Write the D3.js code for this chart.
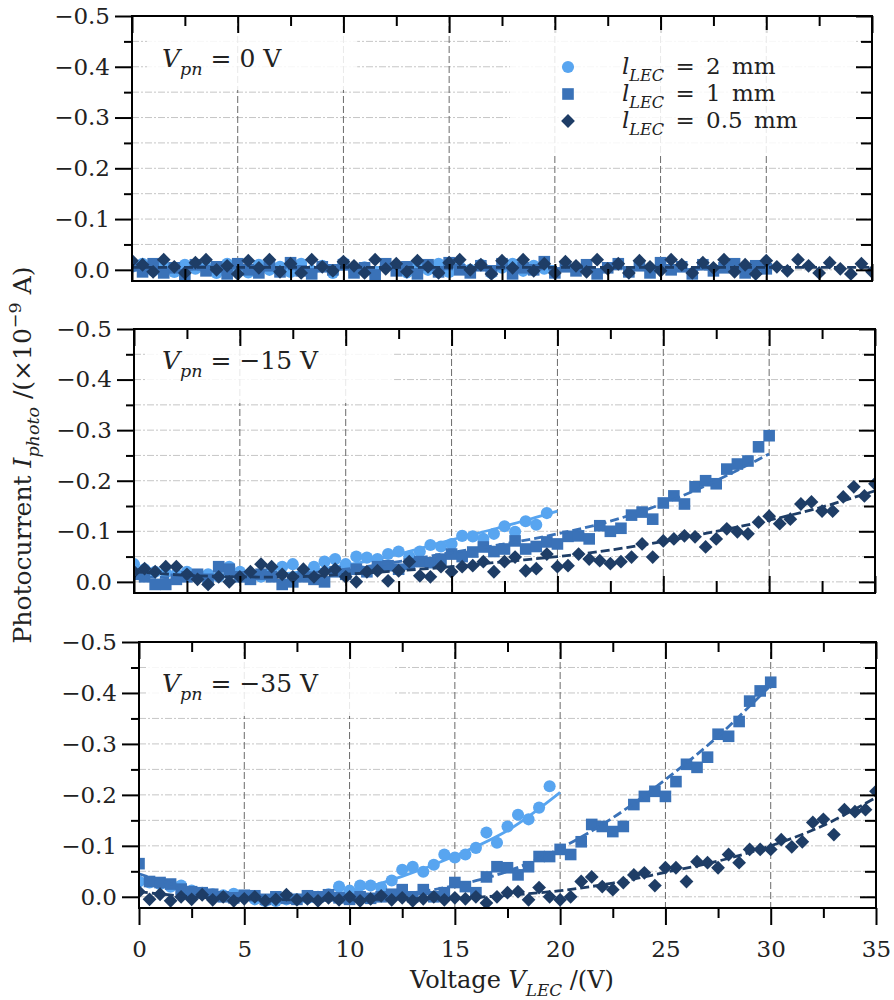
<!DOCTYPE html>
<html>
<head>
<meta charset="utf-8">
<script src="https://d3js.org/d3.v7.min.js"></script>
<style>
body { margin: 0; background: #fff; }
svg { display: block; font-family: "DejaVu Serif", serif; }
.frame { fill: none; stroke: #000; stroke-width: 2; }
.tick text { fill: #222; }
</style>
</head>
<body>
<svg width="894" height="1000"></svg>
<script>
// LEC voltage steps (V) shared by all series
const voltages = [0,0.5,1,1.5,2,2.5,3,3.5,4,4.5,5,5.5,6,6.5,7,7.5,8,8.5,9,9.5,
  10,10.5,11,11.5,12,12.5,13,13.5,14,14.5,15,15.5,16,16.5,17,17.5,18,18.5,19,19.5,
  20,20.5,21,21.5,22,22.5,23,23.5,24,24.5,25,25.5,26,26.5,27,27.5,28,28.5,29,29.5,
  30,30.5,31,31.5,32,32.5,33,33.5,34,34.5,35];
const fitVoltages = [0,2.5,5,7.5,10,12.5,15,17.5,20,22.5,25,27.5,30,32.5,35];

const seriesNames = ["2 mm", "1 mm", "0.5 mm"];
const vpnNames = ["0 V", "\u221215 V", "\u221235 V"];
const xMajor = [0,5,10,15,20,25,30,35];
const xMinor = [2.5,7.5,12.5,17.5,22.5,27.5,32.5];
const yMajor = [0,-0.1,-0.2,-0.3,-0.4,-0.5];
const yMinor = [-0.05,-0.15,-0.25,-0.35,-0.45];

// V_pn = 0 V
const p1_2mm = [-0.006,-0.012,0.002,-0.008,0.004,-0.01,-0.002,-0.006,0.006,-0.012,
  -0.004,0.005,-0.01,0.0,-0.006,0.004,-0.012,0.002,-0.008,0.006,
  -0.014,0.0,-0.005,0.008,-0.01,-0.003,0.005,-0.008,0.0,-0.012,
  0.004,-0.006,0.0,-0.01,0.006,-0.004,-0.012,0.002,-0.008,-0.002];
const p1_1mm = [-0.008,0.004,-0.012,0.006,-0.004,0.01,-0.01,0.002,-0.006,0.008,
  -0.012,0.0,0.006,-0.008,0.004,-0.014,0.002,0.008,-0.006,0.0,
  -0.01,0.006,-0.004,0.01,-0.012,0.002,-0.006,0.008,-0.01,0.004,
  -0.014,0.0,0.006,-0.008,0.002,-0.012,0.008,-0.004,0.0,-0.016,
  0.006,-0.006,0.002,-0.01,0.008,-0.004,-0.012,0.004,-0.008,0.006,
  -0.014,0.0,-0.006,0.008,-0.01,0.002,-0.004,-0.012,0.006,-0.008,-0.002];
const p1_05mm = [-0.018,-0.01,0.004,-0.02,-0.006,0.006,-0.014,-0.02,0.0,-0.008,
  0.008,-0.018,-0.004,-0.02,0.004,-0.012,0.006,-0.02,-0.006,0.002,
  -0.016,-0.008,0.006,-0.02,-0.002,-0.012,0.004,-0.018,-0.006,0.006,
  -0.014,-0.02,0.0,-0.01,0.008,-0.018,-0.004,-0.02,0.002,-0.012,
  0.006,-0.016,-0.008,0.004,-0.02,-0.002,-0.012,0.006,-0.018,-0.006,
  0.002,-0.02,-0.01,0.006,-0.014,-0.004,-0.02,0.004,-0.01,0.008,
  -0.018,-0.006,0.002,-0.02,-0.008,0.006,-0.014,-0.002,0.008,-0.012,0.004];
const p1_fit2mm = [-0.006,-0.005,-0.004,-0.004,-0.004,-0.005,-0.005,-0.006,-0.007];
const p1_fit1mm = [-0.002,-0.002,-0.002,-0.002,-0.002,-0.002,-0.002,-0.002,-0.002,-0.002,-0.002,-0.002,-0.002];
const p1_fit05mm = [-0.005,-0.005,-0.005,-0.005,-0.005,-0.005,-0.005,-0.005,-0.005,-0.005,-0.005,-0.005,-0.005,-0.005,-0.005];

// V_pn = -15 V
const p2_2mm = [-0.035,-0.025,-0.02,-0.018,-0.015,-0.02,-0.012,-0.015,-0.01,-0.03,
  -0.02,-0.015,-0.01,-0.02,-0.03,-0.035,-0.02,-0.03,-0.04,-0.045,
  -0.035,-0.05,-0.048,-0.045,-0.055,-0.06,-0.05,-0.06,-0.073,-0.07,
  -0.075,-0.091,-0.09,-0.085,-0.095,-0.11,-0.099,-0.12,-0.113,-0.136];
const p2_1mm = [-0.015,-0.01,0.005,0.005,-0.005,-0.01,-0.015,-0.005,-0.03,-0.025,
  -0.01,-0.005,-0.015,-0.01,0.005,0.0,-0.01,-0.005,0.0,-0.02,
  -0.015,-0.025,-0.02,-0.03,-0.032,-0.025,-0.035,-0.04,-0.038,-0.045,
  -0.055,-0.05,-0.059,-0.069,-0.06,-0.065,-0.081,-0.065,-0.07,-0.079,
  -0.075,-0.09,-0.091,-0.085,-0.111,-0.1,-0.106,-0.132,-0.138,-0.124,
  -0.156,-0.17,-0.154,-0.188,-0.2,-0.194,-0.223,-0.233,-0.239,-0.267,-0.289];
const p2_05mm = [-0.02,-0.026,-0.02,-0.03,-0.03,-0.015,-0.005,0.005,-0.01,0.0,
  -0.01,-0.02,-0.035,-0.03,-0.015,-0.01,-0.025,-0.01,-0.02,-0.025,
  -0.01,0.0,-0.02,-0.022,-0.002,-0.022,-0.04,-0.012,-0.01,-0.03,
  -0.02,-0.03,-0.032,-0.04,-0.02,-0.04,-0.049,-0.022,-0.026,-0.055,
  -0.03,-0.032,-0.055,-0.045,-0.042,-0.036,-0.04,-0.049,-0.075,-0.049,
  -0.081,-0.085,-0.091,-0.089,-0.069,-0.085,-0.105,-0.099,-0.095,-0.118,
  -0.13,-0.115,-0.124,-0.154,-0.158,-0.14,-0.14,-0.168,-0.188,-0.17,-0.194];
const p2_fit2mm = [-0.025,-0.015,-0.012,-0.018,-0.033,-0.055,-0.083,-0.11,-0.14];
const p2_fit1mm = [-0.01,-0.008,-0.01,-0.015,-0.025,-0.04,-0.058,-0.075,-0.095,-0.12,-0.155,-0.2,-0.253];
const p2_fit05mm = [-0.02,-0.013,-0.01,-0.01,-0.015,-0.022,-0.03,-0.04,-0.05,-0.063,-0.08,-0.1,-0.122,-0.148,-0.18];

// V_pn = -35 V
const p3_2mm = [-0.03,-0.028,-0.025,-0.02,-0.022,-0.012,-0.008,-0.005,-0.003,-0.006,
  0.0,0.005,0.008,0.008,0.005,0.005,0.003,0.0,-0.005,-0.02,
  -0.012,-0.022,-0.022,-0.018,-0.032,-0.053,-0.059,-0.049,-0.063,-0.083,
  -0.077,-0.083,-0.096,-0.126,-0.106,-0.138,-0.161,-0.152,-0.175,-0.217];
const p3_1mm = [-0.065,-0.03,-0.028,-0.025,-0.015,-0.01,-0.008,-0.005,0.0,0.002,
  -0.003,-0.002,0.005,0.0,0.003,0.005,-0.002,0.0,-0.004,0.002,
  0.005,0.0,0.003,0.0,-0.005,-0.014,0.0,-0.014,0.0,-0.008,
  -0.028,-0.02,-0.008,-0.039,-0.059,-0.057,-0.043,-0.059,-0.079,-0.079,
  -0.093,-0.083,-0.108,-0.142,-0.138,-0.128,-0.138,-0.181,-0.197,-0.207,
  -0.197,-0.226,-0.26,-0.254,-0.274,-0.319,-0.315,-0.344,-0.384,-0.404,-0.421];
const p3_05mm = [-0.01,0.005,-0.005,0.008,0.0,0.005,-0.004,0.006,0.0,0.008,
  0.004,0.0,0.008,0.005,-0.004,0.006,0.004,0.008,0.002,0.006,
  0.0,0.008,0.004,-0.002,0.006,0.002,0.008,0.004,0.0,0.006,
  0.002,0.004,0.0,0.012,0.0,-0.008,-0.01,0.006,-0.018,0.0,
  0.006,0.0,-0.03,-0.039,-0.02,-0.014,-0.028,-0.043,-0.047,-0.022,
  -0.057,-0.057,-0.03,-0.069,-0.067,-0.057,-0.083,-0.067,-0.093,-0.093,
  -0.093,-0.112,-0.098,-0.108,-0.146,-0.152,-0.122,-0.171,-0.167,-0.171,-0.207];
const p3_fit2mm = [-0.035,-0.012,0.0,0.003,-0.01,-0.04,-0.08,-0.13,-0.205];
const p3_fit1mm = [-0.045,-0.015,0.003,0.008,0.005,-0.005,-0.022,-0.05,-0.095,-0.155,-0.23,-0.315,-0.415];
const p3_fit05mm = [-0.01,0.0,0.004,0.006,0.006,0.004,0.003,-0.003,-0.012,-0.027,-0.048,-0.07,-0.1,-0.14,-0.195];

const panelValues = [[p1_2mm, p1_1mm, p1_05mm], [p2_2mm, p2_1mm, p2_05mm], [p3_2mm, p3_1mm, p3_05mm]];
const panelFits = [[p1_fit2mm, p1_fit1mm, p1_fit05mm], [p2_fit2mm, p2_fit1mm, p2_fit05mm], [p3_fit2mm, p3_fit1mm, p3_fit05mm]];

// layout (the scan is slightly skewed, so each panel has its own box)
const boxes = [
  {left: 132, right: 872, top: 16, bottom: 281, labelY: 51},
  {left: 134, right: 875, top: 329, bottom: 593, labelY: 40},
  {left: 139, right: 876, top: 642, bottom: 908, labelY: 50}
];
const colors = ["#58a5f0", "#3a72b8", "#1e3d66"];
const dashes = [null, "9,4", "9,4"];
const symbols = [
  d3.symbol(d3.symbolCircle, 115)(),
  d3.symbol(d3.symbolSquare, 135)(),
  d3.symbol(d3.symbolSquare, 95)()
];
const fs = 23;

const svg = d3.select("svg");

function rich(text, parts, size) {
  let shift = 0;
  parts.forEach(p => {
    const target = p.sub ? size * 0.32 : p.sup ? -size * 0.42 : 0;
    const ts = text.append("tspan").text(p.t).attr("dy", target - shift);
    shift = target;
    if (p.i) ts.attr("font-style", "italic");
    if (p.sub || p.sup) ts.attr("font-size", size * 0.7);
  });
}

boxes.forEach((b, pi) => {
  const x = d3.scaleLinear().domain([0, 35]).range([b.left, b.right]);
  const y = d3.scaleLinear().domain([0.022, -0.5]).range([b.bottom, b.top]);
  const g = svg.append("g");

  svg.append("clipPath").attr("id", "clip" + pi).append("rect")
    .attr("x", b.left).attr("y", b.top)
    .attr("width", b.right - b.left).attr("height", b.bottom - b.top);

  // grid
  g.append("g").selectAll("line").data(yMajor.concat(yMinor).filter(d => d > -0.5)).join("line")
    .attr("x1", b.left).attr("x2", b.right)
    .attr("y1", d => y(d)).attr("y2", d => y(d))
    .attr("stroke", "#c6c6c6").attr("stroke-width", 1).attr("stroke-dasharray", "7,2,2,2");
  g.append("g").selectAll("line").data(xMajor.filter(d => d > 0 && d < 35)).join("line")
    .attr("x1", d => x(d)).attr("x2", d => x(d))
    .attr("y1", b.top).attr("y2", b.bottom)
    .attr("stroke", "#6a6a6a").attr("stroke-width", 1).attr("stroke-dasharray", "7,3");

  // V_pn label with its box
  const lab = g.append("text").attr("x", 162).attr("y", b.top + b.labelY)
    .attr("font-size", 25).attr("fill", "#222");
  rich(lab, [{t: "V", i: true}, {t: "pn", i: true, sub: true}, {t: " = " + vpnNames[pi]}], 25);
  const bb = lab.node().getBBox();
  g.insert("rect", "text").attr("x", bb.x - 15).attr("y", b.top + 14)
    .attr("width", bb.width + 90).attr("height", 60)
    .attr("fill", "#fff").attr("opacity", 0.85);

  // data and fits
  const dg = g.append("g").attr("clip-path", `url(#clip${pi})`);
  const line = d3.line().x((d, i) => x(fitVoltages[i])).y(d => y(d)).curve(d3.curveCatmullRom);
  panelValues[pi].forEach((vals, si) => {
    dg.append("g").selectAll("path").data(vals).join("path")
      .attr("d", symbols[si])
      .attr("transform", (d, i) => `translate(${x(voltages[i])},${y(d)})` + (si === 2 ? " rotate(45)" : ""))
      .attr("fill", colors[si]);
    dg.append("path").datum(panelFits[pi][si])
      .attr("d", line)
      .attr("fill", "none").attr("stroke", colors[si]).attr("stroke-width", 2.8)
      .attr("stroke-dasharray", dashes[si]);
  });

  // axes
  const fmt = d3.format(".1f");
  const left = g.append("g").attr("transform", `translate(${b.left},0)`)
    .call(d3.axisLeft(y).tickValues(yMajor).tickSize(17).tickPadding(5).tickFormat(fmt));
  left.selectAll("text").attr("font-size", fs).attr("font-family", "DejaVu Serif");
  g.append("g").attr("transform", `translate(${b.left},0)`)
    .call(d3.axisLeft(y).tickValues(yMinor).tickSize(8).tickFormat(""));
  g.append("g").attr("transform", `translate(${b.right},0)`)
    .call(d3.axisLeft(y).tickValues(yMajor).tickSize(16).tickFormat(""));
  g.append("g").attr("transform", `translate(${b.right},0)`)
    .call(d3.axisLeft(y).tickValues(yMinor).tickSize(11).tickFormat(""));
  g.append("g").attr("transform", `translate(0,${b.top})`)
    .call(d3.axisBottom(x).tickValues(xMajor).tickSize(17).tickFormat(""));
  g.append("g").attr("transform", `translate(0,${b.top})`)
    .call(d3.axisBottom(x).tickValues(xMinor).tickSize(10).tickFormat(""));
  if (pi < 2) {
    g.append("g").attr("transform", `translate(0,${b.bottom})`)
      .call(d3.axisTop(x).tickValues(xMajor).tickSize(17).tickFormat(""));
    g.append("g").attr("transform", `translate(0,${b.bottom})`)
      .call(d3.axisTop(x).tickValues(xMinor).tickSize(12).tickFormat(""));
  } else {
    const bottom = g.append("g").attr("transform", `translate(0,${b.bottom})`)
      .call(d3.axisBottom(x).tickValues(xMajor).tickSize(17).tickPadding(16).tickFormat(d3.format("d")));
    bottom.selectAll("text").attr("font-size", fs).attr("font-family", "DejaVu Serif");
    g.append("g").attr("transform", `translate(0,${b.bottom})`)
      .call(d3.axisBottom(x).tickValues(xMinor).tickSize(10).tickFormat(""));
  }
  g.selectAll(".domain").remove();
  g.selectAll(".tick line").attr("stroke", "#000").attr("stroke-width", 2);

  g.append("rect").attr("class", "frame")
    .attr("x", b.left).attr("y", b.top)
    .attr("width", b.right - b.left).attr("height", b.bottom - b.top);
});

// legend (first panel)
const leg = svg.append("g");
leg.append("rect").attr("x", 510).attr("y", 30).attr("width", 345).attr("height", 124)
  .attr("fill", "#fff").attr("opacity", 0.85);
seriesNames.forEach((name, si) => {
  const cy = 67 + si * 27;
  leg.append("path").attr("d", symbols[si])
    .attr("transform", `translate(568,${cy})` + (si === 2 ? " rotate(45)" : ""))
    .attr("fill", colors[si]);
  const t = leg.append("text").attr("x", 622).attr("y", cy + 7).attr("font-size", 23)
    .attr("word-spacing", 4).attr("fill", "#222");
  rich(t, [{t: "l", i: true}, {t: "LEC", i: true, sub: true}, {t: " = " + name}], 23);
});

// axis titles
const xt = svg.append("text").attr("x", 512).attr("y", 988).attr("text-anchor", "middle")
  .attr("font-size", 24).attr("fill", "#222");
rich(xt, [{t: "Voltage "}, {t: "V", i: true}, {t: "LEC", i: true, sub: true}, {t: " /(V)"}], 24);

const yt = svg.append("text").attr("transform", "translate(31,455) rotate(-90)")
  .attr("text-anchor", "middle").attr("font-size", 25).attr("fill", "#222");
rich(yt, [{t: "Photocurrent "}, {t: "I", i: true}, {t: "photo", i: true, sub: true},
  {t: " /(\u00d710"}, {t: "\u22129", sup: true}, {t: " A)"}], 25);
</script>
</body>
</html>
